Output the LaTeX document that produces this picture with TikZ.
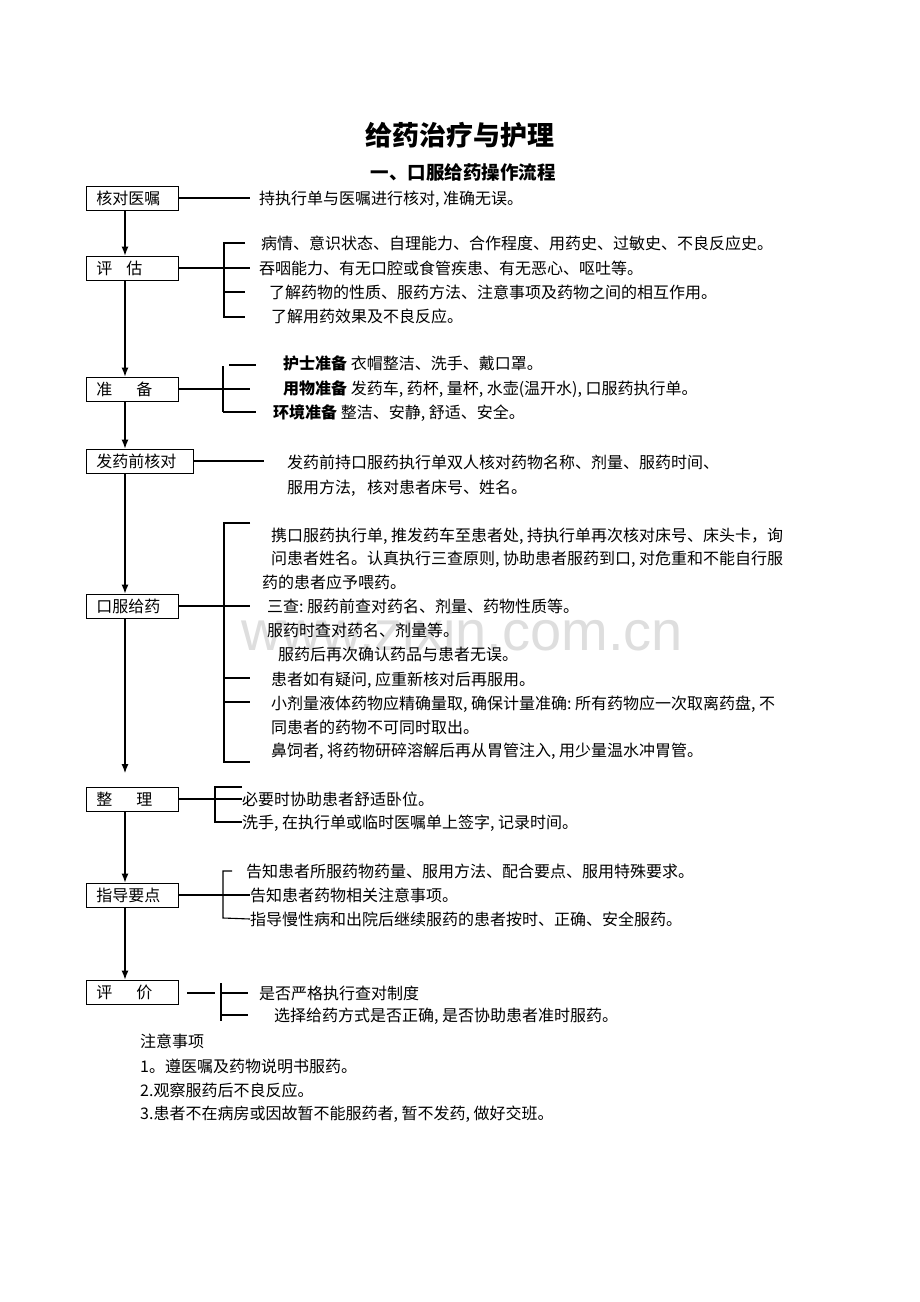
\documentclass[tikz,border=0pt]{standalone}
\usepackage{fontspec}
\setmainfont{Noto Sans CJK SC}
\newfontfamily\wmfont{Liberation Sans}
\usetikzlibrary{arrows.meta}
\newcommand\fs{\fontsize{16}{19}\selectfont}
\newcommand\hc{\makebox[0.5em][l]{,}}
\newcommand\hcl{\makebox[0.5em][l]{:}}
\begin{document}
\begin{tikzpicture}[x=1pt,y=-1pt,
  ln/.style={line width=1.1pt},
  arr/.style={line width=1.1pt,-{Latex[length=9pt,width=7pt]}},
  box/.style={draw,line width=0.9pt,anchor=west,minimum height=24pt,inner xsep=10pt,inner ysep=0pt,text width=72pt,align=left,font=\fs,text height=14pt,text depth=2pt},
  txt/.style={anchor=west,inner sep=0pt,font=\fs,text height=14pt,text depth=2pt}]
\fill[white] (0,0) rectangle (920,1302);
\useasboundingbox (0,0) rectangle (920,1302);

% watermark
\node[anchor=base,inner sep=0pt,font=\wmfont\fontsize{56}{60}\selectfont,text=black!13] (wm) at (462,650) {www.zixin.com.cn};

% titles
\node[font=\fontsize{27}{32}\selectfont\bfseries] (title) at (460,135) {给药治疗与护理};
\node[font=\fontsize{18.5}{22}\selectfont\bfseries] (sub) at (463,172) {一、口服给药操作流程};

% boxes
\node[box] (b1) at (86,198) {核对医嘱};
\node[box] (b2) at (86,268) {评\hspace{14pt}估};
\node[box] (b3) at (86,389) {准\hspace{24pt}备};
\node[box,text width=87pt] (b4) at (86,461) {发药前核对};
\node[box] (b5) at (86,606) {口服给药};
\node[box] (b6) at (86,799) {整\hspace{24pt}理};
\node[box] (b7) at (86,895) {指导要点};
\node[box] (b8) at (86,992) {评\hspace{24pt}价};

% main arrows
\coordinate (ax) at (125,0);
\coordinate (e5) at (125,773);
\draw[arr] (b1.south -| ax) -- (b2.north -| ax);
\draw[arr] (b2.south -| ax) -- (b3.north -| ax);
\draw[arr] (b3.south -| ax) -- (b4.north -| ax);
\draw[arr] (b4.south -| ax) -- (b5.north -| ax);
\draw[arr] (b5.south -| ax) -- (e5);
\draw[arr] (b6.south -| ax) -- (b7.north -| ax);
\draw[arr] (b7.south -| ax) -- (b8.north -| ax);

% 1 核对医嘱
\node[txt] (t1) at (259,198) {持执行单与医嘱进行核对\hc 准确无误。};
\coordinate (c1) at (250,198);
\draw[ln] (b1.east) -- (c1);

% 2 评估
\node[txt] (t21) at (261,243) {病情、意识状态、自理能力、合作程度、用药史、过敏史、不良反应史。};
\node[txt] (t22) at (259,268) {吞咽能力、有无口腔或食管疾患、有无恶心、呕吐等。};
\node[txt] (t23) at (269,292) {了解药物的性质、服药方法、注意事项及药物之间的相互作用。};
\node[txt] (t24) at (271,316) {了解用药效果及不良反应。};
\coordinate (c2) at (250,268);
\draw[ln] (b2.east) -- (c2);
\draw[ln] (245,243) -- (224,243) -- (224,317) -- (245,317);
\draw[ln] (224,292) -- (245,292);

% 3 准备
\node[txt] (t31) at (283,363) {{\bfseries 护士准备}\ 衣帽整洁、洗手、戴口罩。};
\node[txt] (t32) at (283,388) {{\bfseries 用物准备}\ 发药车\hc 药杯\hc 量杯\hc 水壶(温开水)\hc 口服药执行单。};
\node[txt] (t33) at (273,412) {{\bfseries 环境准备}\ 整洁、安静\hc 舒适、安全。};
\coordinate (c3) at (250,389);
\draw[ln] (b3.east) -- (c3);
\draw[ln] (223,366) -- (223,412);
\draw[ln] (229,365) -- (256,365);
\draw[ln] (223,412) -- (256,412);

% 4 发药前核对
\node[txt] (t41) at (287,462) {发药前持口服药执行单双人核对药物名称、剂量、服药时间、};
\node[txt] (t42) at (287,487) {服用方法\hc\hspace{0.5em}核对患者床号、姓名。};
\coordinate (c4) at (264,461);
\draw[ln] (b4.east) -- (c4);

% 5 口服给药
\node[txt] (t51) at (271,535) {携口服药执行单\hc 推发药车至患者处\hc 持执行单再次核对床号、床头卡，询};
\node[txt] (t52) at (271,558) {问患者姓名。认真执行三查原则\hc 协助患者服药到口\hc 对危重和不能自行服};
\node[txt] (t53) at (262,582) {药的患者应予喂药。};
\node[txt] (t54) at (267,606) {三查\hcl 服药前查对药名、剂量、药物性质等。};
\node[txt] (t55) at (267,630) {服药时查对药名、剂量等。};
\node[txt] (t56) at (278,654) {服药后再次确认药品与患者无误。};
\node[txt] (t57) at (271,679) {患者如有疑问\hc 应重新核对后再服用。};
\node[txt] (t58) at (271,703) {小剂量液体药物应精确量取\hc 确保计量准确\hcl 所有药物应一次取离药盘\hc 不};
\node[txt] (t59) at (271,727) {同患者的药物不可同时取出。};
\node[txt] (t510) at (271,750) {鼻饲者\hc 将药物研碎溶解后再从胃管注入\hc 用少量温水冲胃管。};
\coordinate (c5) at (250,606);
\draw[ln] (b5.east) -- (c5);
\draw[ln] (250,523) -- (224,523) -- (224,762) -- (250,762);
\draw[ln] (224,678) -- (250,678);
\draw[ln] (224,702) -- (250,702);

% 6 整理
\node[txt] (t61) at (242,799) {必要时协助患者舒适卧位。};
\node[txt] (t62) at (242,822) {洗手\hc 在执行单或临时医嘱单上签字\hc 记录时间。};
\draw[ln] (b6.east) -- (t61.west);
\draw[ln] (242,787) -- (215,787) -- (215,822) -- (t62.west);

% 7 指导要点
\node[txt] (t71) at (246,871) {告知患者所服药物药量、服用方法、配合要点、服用特殊要求。};
\node[txt] (t72) at (250,895) {告知患者药物相关注意事项。};
\node[txt] (t73) at (250,919) {指导慢性病和出院后继续服药的患者按时、正确、安全服药。};
\draw[ln] (b7.east) -- (t72.west);
\draw[ln] (232,871) -- (223,871) -- (223,918) -- (t73.west);

% 8 评价
\node[txt] (t81) at (259,993) {是否严格执行查对制度};
\node[txt] (t82) at (274,1015) {选择给药方式是否正确\hc 是否协助患者准时服药。};
\coordinate (c8a) at (187,993);
\coordinate (c8b) at (215,993);
\draw[ln] (c8a) -- (c8b);
\draw[ln] (221,983) -- (221,1021);
\draw[ln] (221,993) -- (248,993);
\draw[ln] (221,1015) -- (248,1015);

% notes
\node[txt] (n0) at (140,1041) {注意事项};
\node[txt] (n1) at (140,1066) {1。遵医嘱及药物说明书服药。};
\node[txt] (n2) at (140,1090) {2.观察服药后不良反应。};
\node[txt] (n3) at (140,1113) {3.患者不在病房或因故暂不能服药者\hc 暂不发药\hc 做好交班。};
\end{tikzpicture}
\end{document}
